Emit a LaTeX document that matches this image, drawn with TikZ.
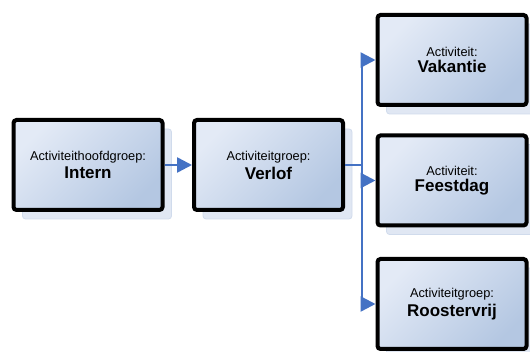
\documentclass[tikz,border=0pt]{standalone}
\usepackage{fontspec}
\setmainfont{Liberation Sans}
\usetikzlibrary{arrows.meta,shadows}
\definecolor{boxlight}{HTML}{E3EAF6}
\definecolor{boxdark}{HTML}{B4C7E2}
\definecolor{shadowcol}{HTML}{E0E7F3}
\definecolor{shadowedge}{HTML}{D0DBEC}
\definecolor{linkblue}{HTML}{4472C4}
\tikzset{
  actbox/.style={draw=black, line width=4pt, rounded corners=3pt,
    minimum width=149pt, minimum height=90pt, align=center,
    top color=boxlight, bottom color=boxdark, shading angle=45,
    drop shadow={shadow xshift=9pt, shadow yshift=-9pt, opacity=1,
      fill=shadowcol, draw=shadowedge, line width=0.8pt, rounded corners=0pt}},
  link/.style={draw=linkblue, line width=2.5pt,
    -{Triangle[length=15pt,width=15pt]}},
}
\newcommand{\lbl}[2]{{\fontsize{12.8}{14}\selectfont #1}\\[3pt]{\fontsize{17}{19}\selectfont\bfseries #2}}
\begin{document}
\begin{tikzpicture}[x=1pt,y=-1pt]
\useasboundingbox (0,0) rectangle (530,352);
\node[actbox] (intern) at (88,165) {\lbl{Activiteithoofdgroep:}{Intern}};
\node[actbox] (verlof) at (268.5,165) {\lbl{Activiteitgroep:}{Verlof}};
\node[actbox] (vak) at (452,60) {\lbl{Activiteit:}{Vakantie}};
\node[actbox] (feest) at (452,180.5) {\lbl{Activiteit:}{Feestdag}};
\node[actbox] (rooster) at (452,304) {\lbl{Activiteitgroep:}{Roostervrij}};
\draw[link] (intern.east) -- (verlof.east -| verlof.west);
\coordinate (trunk) at (362,165);
\draw[link] (verlof.east) -- (trunk) |- (vak.west);
\draw[link] (verlof.east) -- (trunk) |- (feest.west);
\draw[link] (verlof.east) -- (trunk) |- (rooster.west);
\end{tikzpicture}
\end{document}
